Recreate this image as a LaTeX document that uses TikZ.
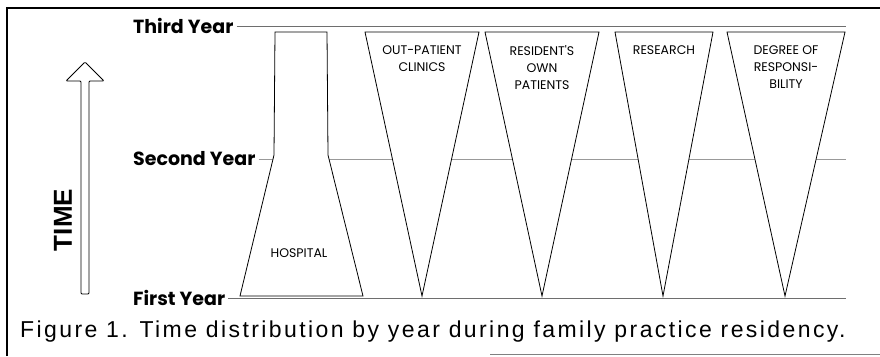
\documentclass[tikz,border=0pt]{standalone}
\usepackage{fontspec}
\setmainfont{Liberation Sans}
\newfontfamily\geofont{Poppins}
\usetikzlibrary{positioning}
\definecolor{scangray}{HTML}{6E6E6E}

\tikzset{
  yearlabel/.style={font=\geofont\bfseries\fontsize{19}{19}\selectfont, anchor=west, inner sep=0pt},
  wedgelabel/.style={font=\geofont\fontsize{12.5}{17}\selectfont, align=center, anchor=north, inner sep=0pt},
  wedge/.style={draw, fill=white, line width=0.8pt},
  yearline/.style={draw=scangray, line width=0.8pt}
}

\begin{document}
\begin{tikzpicture}[x=1pt,y=-1pt]
  \useasboundingbox (0,0) rectangle (880,356);

  % Frame of the scanned figure
  \draw[line width=2pt] (7,356)--(7,8)--(880,8);
  \draw[gray, line width=0.6pt] (490,354.5)--(880,354.5);

  % Time arrow
  \draw[line width=0.8pt, rounded corners=1pt]
    (81,294)--(81,81)--(66,81)--(85,62)--(104,81)--(89,81)--(89,294)--cycle;
  \node[rotate=90, font=\bfseries\fontsize{26}{26}\selectfont] (time) at (63,220) {TIME};

  % Year labels and lines
  \coordinate (rightedge) at (846,0);
  \node[yearlabel] (third) at (133,26) {Third Year};
  \node[yearlabel] (second) at (133,159) {Second Year};
  \node[yearlabel] (first) at (133,298) {First Year};
  \draw[yearline] ([xshift=3pt]third.east)--(third.east -| rightedge);
  \draw[yearline, draw=scangray!70] ([xshift=3pt]second.east)--(second.east -| rightedge);
  \draw[yearline] ([xshift=3pt]first.east)--(first.east -| rightedge);

  % Hospital
  \draw[wedge] (275,32)--(327,32)--(328,155)--(363,296)--(240,296)--(274,155)--cycle;
  \node[font=\geofont\fontsize{12.5}{12.5}\selectfont] (hospital) at (299,253) {HOSPITAL};

  % Wedges growing with the years
  \foreach \l/\r/\a/\name/\txt in {
      365/479/422/clinics/{OUT-PATIENT\\CLINICS},
      485/599/542/patients/{RESIDENT'S\\OWN\\PATIENTS},
      615/713/663/research/{RESEARCH},
      727/845/785/responsibility/{DEGREE OF\\RESPONSI-\\BILITY}} {
    \draw[wedge] (\l,32)--(\r,32)--(\a,296)--cycle;
    \node[wedgelabel] (\name) at ({(\l+\r)/2},45) {\txt};
  }

  % Caption
  \node[anchor=base west, inner sep=0pt,
        font=\addfontfeature{LetterSpace=10.5}\fontsize{23}{23}\selectfont] (caption) at (20,337)
    {Figure 1. Time distribution by year during family practice residency.};
\end{tikzpicture}
\end{document}
